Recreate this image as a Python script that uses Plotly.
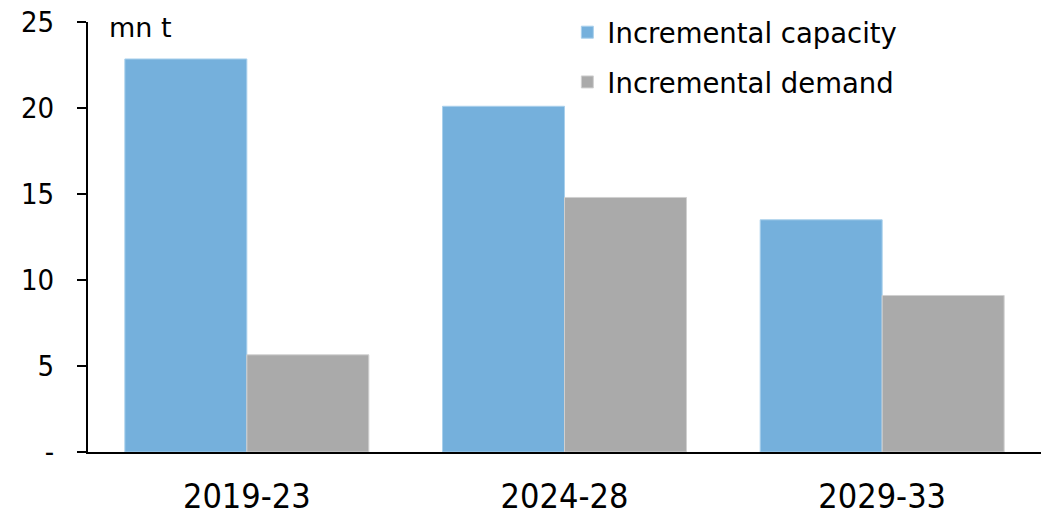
import plotly.graph_objects as go

# Five-year periods and incremental volumes (million tonnes)
periods = ["2019-23", "2024-28", "2029-33"]
capacity = [22.85, 20.1, 13.5]
demand = [5.65, 14.8, 9.1]

y_tick_vals = [0, 5, 10, 15, 20, 25]
y_tick_text = ["-", "5", "10", "15", "20", "25"]

num_font = "DejaVu Sans Condensed, Liberation Sans, sans-serif"
txt_font = "DejaVu Sans, sans-serif"

fig = go.Figure()
fig.add_trace(go.Bar(
    x=periods, y=capacity, name="Incremental capacity",
    marker=dict(color="#75b0dc", line=dict(color="#a9d0ec", width=1)),
    legendgroup="a",
))
fig.add_trace(go.Bar(
    x=periods, y=demand, name="Incremental demand",
    marker=dict(color="#aaaaaa", line=dict(color="#d0d0d0", width=1)),
    legendgroup="b",
))

fig.update_layout(
    width=1043, height=515,
    margin=dict(l=88, r=2, t=22, b=63),
    plot_bgcolor="white", paper_bgcolor="white",
    barmode="group", bargap=0.232, bargroupgap=0,
    showlegend=True,
    legend=dict(
        x=0.503, y=1.033, xanchor="left", yanchor="top",
        font=dict(family=txt_font, size=27.5, color="black"),
        traceorder="grouped", tracegroupgap=11,
        bgcolor="rgba(0,0,0,0)", itemwidth=30,
    ),
    xaxis=dict(
        showline=True, linecolor="black", linewidth=2,
        ticks="", showgrid=False, automargin=False,
        tickfont=dict(family=num_font, size=34, color="black"),
        ticklabelstandoff=13,
    ),
    yaxis=dict(
        range=[0, 25], tickvals=y_tick_vals, ticktext=y_tick_text,
        showline=True, linecolor="black", linewidth=2,
        ticks="outside", ticklen=9, tickwidth=2, tickcolor="black",
        showgrid=False, zeroline=False, automargin=False,
        tickfont=dict(family=num_font, size=29, color="black"),
        ticklabelstandoff=17,
    ),
)

fig.add_annotation(
    text="mn t", xref="paper", yref="paper",
    x=(107 - 88) / 953, y=(452 - 27) / 430,
    xanchor="left", yanchor="middle", showarrow=False,
    font=dict(family=txt_font, size=27, color="black"),
)

fig.write_html("out.html")
